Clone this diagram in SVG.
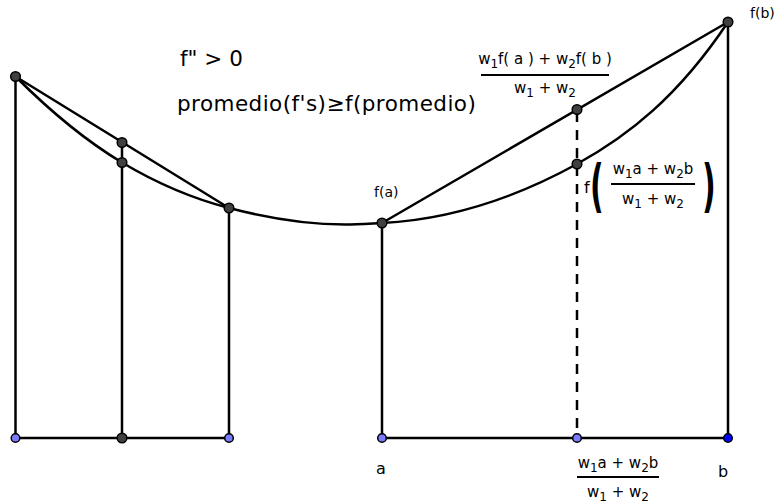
<svg xmlns="http://www.w3.org/2000/svg" width="779" height="503" viewBox="0 0 779 503">
<style>
.ln{stroke:#000;stroke-width:2.5;fill:none;stroke-linecap:round}
.dash{stroke:#000;stroke-width:2.5;fill:none;stroke-dasharray:10,8}
.pt{fill:#404040;stroke:#000;stroke-width:1.5}
.lb{fill:#7b7bff;stroke:#000;stroke-width:1.5}
.bl{fill:#0000ff;stroke:#000;stroke-width:1.5}
text{font-family:"DejaVu Sans",sans-serif;fill:#000}
.t20{font-size:21.5px}
.t14{font-size:14px}
.t16{font-size:16px}
.fr{font-size:15px}
.par{font-size:30px;font-weight:bold}
</style>
<rect width="779" height="503" fill="#fff"/>
<g id="connectors">
<path class="ln" d="M15.5,76.5 C51,112 86.5,141.2 122,162.5 C157.7,183.9 193.3,198.7 229,208 C267.7,218.05 306.3,224.5 345,224.5 C357.3,224.5 369.7,223.6 382,223 C447,219.75 512,199.75 577,164 C627.3,136.3 677.7,97.5 728,22"/>
<line class="ln" x1="15.5" y1="76.5" x2="229" y2="208"/>
<line class="ln" x1="382" y1="223" x2="728" y2="22"/>
<line class="ln" x1="15.5" y1="76.5" x2="15.5" y2="438"/>
<line class="ln" x1="122" y1="142.5" x2="122" y2="438"/>
<line class="ln" x1="229" y1="208" x2="229" y2="438"/>
<line class="ln" x1="15.5" y1="438" x2="229" y2="438"/>
<line class="ln" x1="382" y1="223" x2="382" y2="438"/>
<line class="ln" x1="728" y1="22" x2="728" y2="438"/>
<line class="ln" x1="382" y1="438" x2="728" y2="438"/>
<line class="dash" x1="577" y1="112" x2="577" y2="438"/>
</g>
<g id="points">
<circle class="pt" cx="15.5" cy="76.5" r="4.8"/>
<circle class="pt" cx="122" cy="142.5" r="4.8"/>
<circle class="pt" cx="122" cy="162.5" r="4.8"/>
<circle class="pt" cx="229" cy="208" r="4.8"/>
<circle class="pt" cx="382" cy="223" r="4.8"/>
<circle class="pt" cx="577" cy="109.5" r="4.8"/>
<circle class="pt" cx="577" cy="164" r="4.8"/>
<circle class="pt" cx="728" cy="22" r="4.8"/>
<circle class="lb" cx="15.5" cy="438" r="4.3"/>
<circle class="pt" cx="122" cy="438" r="4.8"/>
<circle class="lb" cx="229" cy="438" r="4.3"/>
<circle class="lb" cx="382" cy="438" r="4.3"/>
<circle class="lb" cx="577" cy="438" r="4.3"/>
<circle class="bl" cx="728" cy="438" r="4.3"/>
</g>
<g id="labels">
<text class="t20" x="180" y="66">f" &gt; 0</text>
<text class="t20" x="177" y="111" letter-spacing="0.45">promedio(f's)≥f(promedio)</text>
<text class="t14" x="750" y="18">f(b)</text>
<text class="t14" x="374" y="197">f(a)</text>
<text class="t16" x="376" y="474">a</text>
<text class="t16" x="718" y="477">b</text>
</g>
<g id="frac-top">
<text class="fr" x="545" y="64" text-anchor="middle">w<tspan dy="4" font-size="12">1</tspan><tspan dy="-4">f( a ) + w</tspan><tspan dy="4" font-size="12">2</tspan><tspan dy="-4">f( b )</tspan></text>
<line x1="481" y1="75" x2="609" y2="75" stroke="#000" stroke-width="2"/>
<text class="fr" x="545" y="93" text-anchor="middle">w<tspan dy="4" font-size="12">1</tspan><tspan dy="-4"> + w</tspan><tspan dy="4" font-size="12">2</tspan></text>
</g>
<g id="frac-f">
<text class="t16" x="584" y="193">f</text>
<text class="par" transform="translate(590,205) scale(1,1.9)">(</text>
<text class="fr" x="653" y="174" text-anchor="middle">w<tspan dy="4" font-size="12">1</tspan><tspan dy="-4">a + w</tspan><tspan dy="4" font-size="12">2</tspan><tspan dy="-4">b</tspan></text>
<line x1="611" y1="184" x2="695" y2="184" stroke="#000" stroke-width="2"/>
<text class="fr" x="653" y="204" text-anchor="middle">w<tspan dy="4" font-size="12">1</tspan><tspan dy="-4"> + w</tspan><tspan dy="4" font-size="12">2</tspan></text>
<text class="par" transform="translate(702,205) scale(1,1.9)">)</text>
</g>
<g id="frac-bottom">
<text class="fr" x="618" y="468" text-anchor="middle">w<tspan dy="4" font-size="12">1</tspan><tspan dy="-4">a + w</tspan><tspan dy="4" font-size="12">2</tspan><tspan dy="-4">b</tspan></text>
<line x1="577" y1="477" x2="659" y2="477" stroke="#000" stroke-width="2"/>
<text class="fr" x="618" y="497" text-anchor="middle">w<tspan dy="4" font-size="12">1</tspan><tspan dy="-4"> + w</tspan><tspan dy="4" font-size="12">2</tspan></text>
</g>
</svg>
